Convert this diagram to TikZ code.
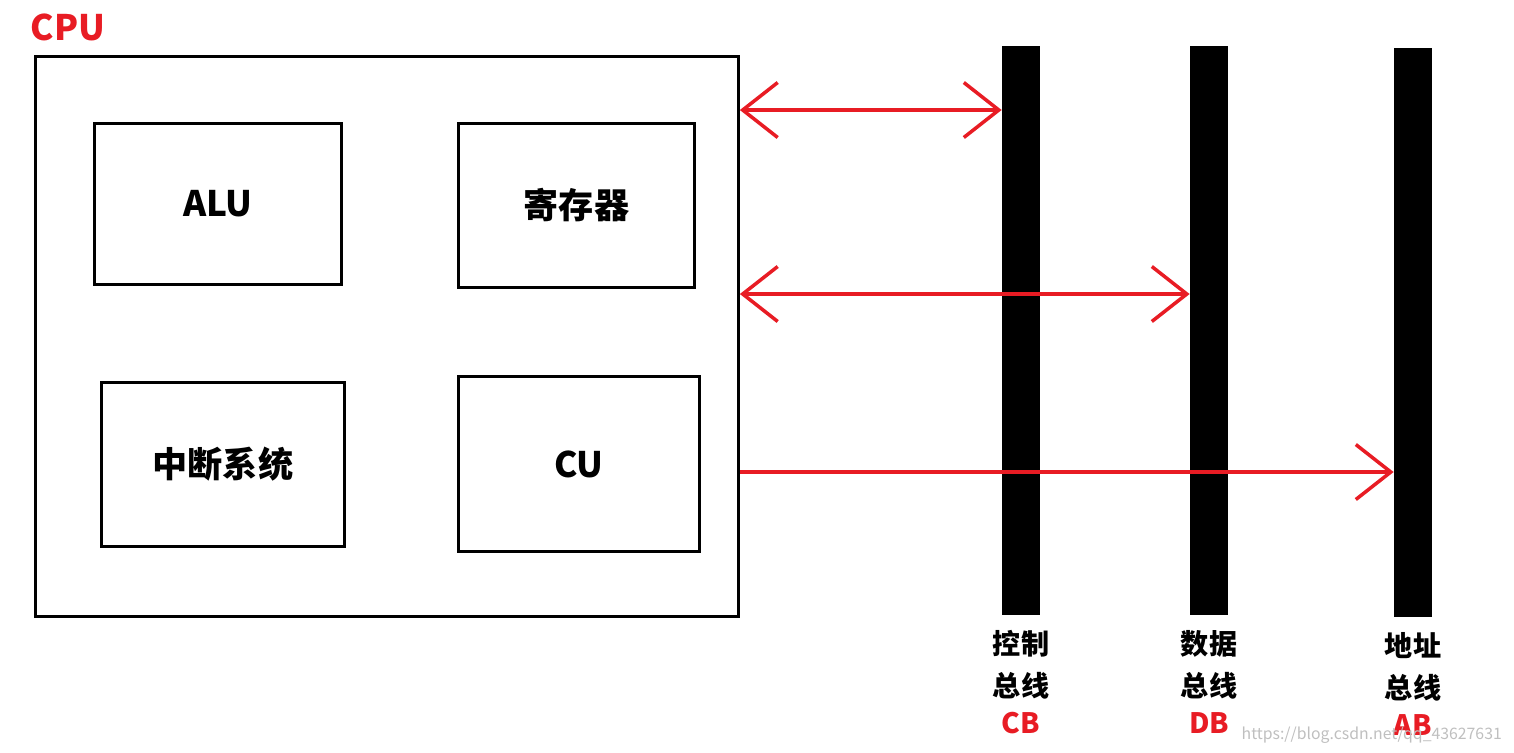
\documentclass[tikz,border=0pt]{standalone}
\usepackage{fontspec}
\setmainfont{Noto Sans CJK SC}
\usetikzlibrary{arrows.meta}
\definecolor{busred}{RGB}{232,28,36}
\tikzset{
  unit/.style={draw, line width=1.7pt, inner sep=0pt, font=\fontsize{20}{24}\selectfont\bfseries},
  bus/.style={fill=black, draw=none, inner sep=0pt, minimum width=0.76cm, anchor=north},
  link/.style={busred, line width=2pt, >={Straight Barb[length=0.7cm, width=1.1cm, line width=2pt]}},
  buslabel/.style={font=\fontsize{16}{24}\selectfont\bfseries, align=center},
}
\begin{document}
\begin{tikzpicture}[x=0.02cm, y=-0.02cm]
  \useasboundingbox (0,0) rectangle (1514,752);
  % CPU frame
  \node[draw, line width=1.7pt, minimum width=14.06cm, minimum height=11.2cm, anchor=north west] (cpu) at (34,55) {};
  \node[font=\fontsize{20}{24}\selectfont\bfseries, text=busred] (cpulabel) at (68,27) {CPU};
  % inner units
  \node[unit, minimum width=4.94cm, minimum height=3.22cm, anchor=north west] (alu) at (93,122) {ALU};
  \node[unit, minimum width=4.72cm, minimum height=3.28cm, anchor=north west] (reg) at (457,122) {寄存器};
  \node[unit, minimum width=4.86cm, minimum height=3.28cm, anchor=north west] (irq) at (100,381) {中断系统};
  \node[unit, minimum width=4.82cm, minimum height=3.5cm, anchor=north west] (cu) at (457,375) {CU};
  % buses
  \node[bus, minimum height=11.38cm] (cb) at (1021,46) {};
  \node[bus, minimum height=11.38cm] (db) at (1209,46) {};
  \node[bus, minimum height=11.38cm] (ab) at (1413,48) {};
  \node[buslabel, anchor=north, yshift=-5pt] (cbl) at (cb.south) {控制\\总线\\[-3pt]\textcolor{busred}{CB}};
  \node[buslabel, anchor=north, yshift=-5pt] (dbl) at (db.south) {数据\\总线\\[-3pt]\textcolor{busred}{DB}};
  \node[buslabel, anchor=north, yshift=-5pt] (abl) at (ab.south) {地址\\总线\\[-3pt]\textcolor{busred}{AB}};
  % connections
  \coordinate (c1) at (cpu.east |- 0,110);
  \coordinate (c2) at (cpu.east |- 0,294);
  \coordinate (c3) at (cpu.east |- 0,472);
  \draw[link, <->] (c1) -- (c1 -| cb.west);
  \draw[link, <->] (c2) -- (c2 -| db.west);
  \draw[link, ->] (c3) -- (c3 -| ab.west);
  \node[text=gray!50, font=\fontsize{9}{10}\selectfont, anchor=east] (mark) at (1508,735) {https://blog.csdn.net/qq\_43627631};
\end{tikzpicture}
\end{document}
